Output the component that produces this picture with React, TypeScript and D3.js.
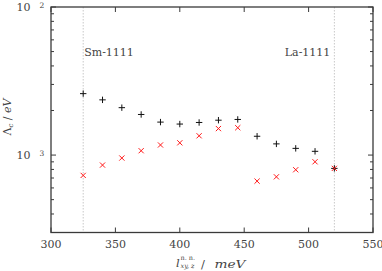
import React from "react";
import * as d3 from "d3";

const xValues = [325, 340, 355, 370, 385, 400, 415, 430, 445, 460, 475, 490, 505, 520];
const blackSeries = [2.6e-3, 2.36e-3, 2.09e-3, 1.88e-3, 1.67e-3, 1.62e-3, 1.66e-3, 1.72e-3, 1.74e-3, 1.34e-3, 1.19e-3, 1.11e-3, 1.06e-3, 8.13e-4];
const redSeries = [7.29e-4, 8.56e-4, 9.55e-4, 1.07e-3, 1.17e-3, 1.21e-3, 1.35e-3, 1.51e-3, 1.53e-3, 6.67e-4, 7.13e-4, 7.96e-4, 9.01e-4, 8.13e-4];
const xTicks = [300, 350, 400, 450, 500, 550];
const yMajorTicks = [1e-2, 1e-3];
const yMajorExponents = ["2", "3"];
const yMinorTicks = [4e-4, 5e-4, 6e-4, 7e-4, 8e-4, 9e-4, 2e-3, 3e-3, 4e-3, 5e-3, 6e-3, 7e-3, 8e-3, 9e-3];
const refLines = [
  { x: 325, label: "Sm-1111" },
  { x: 520, label: "La-1111" },
];

const W = 382;
const H = 271;
const L = 51;
const R = 373;
const T = 7;
const B = 232.5;
const FONT = "'DejaVu Serif', serif";
const AXIS = "#3a3a3a";
const TXT = "#444";

export default function App() {
  const x = d3.scaleLinear().domain([300, 550]).range([L, R]);
  const y = d3.scaleLog().domain([3e-4, 1e-2]).range([B, T]);
  const plus = 3.2;
  const cross = 2.6;
  const txt = { fontFamily: FONT };

  return (
    <svg width={W} height={H} style={{ position: "absolute", left: 0, top: 0, background: "#fff", fontFamily: FONT }}>
      {refLines.map((r, i) => (
        <g key={i}>
          <line x1={x(r.x)} x2={x(r.x)} y1={T} y2={B} stroke="#c8c8c8" strokeWidth={1} strokeDasharray="1.5,1.5" />
          <text
            style={txt}
            x={i === 0 ? x(r.x) + 1 : x(r.x) - 4}
            y={56}
            fontSize={11}
            fill={TXT}
            textAnchor={i === 0 ? "start" : "end"}
          >
            {r.label}
          </text>
        </g>
      ))}

      {xTicks.map((t) => (
        <g key={t}>
          <line x1={x(t)} x2={x(t)} y1={B} y2={B - 5} stroke={AXIS} strokeWidth={1} />
          <line x1={x(t)} x2={x(t)} y1={T} y2={T + 5} stroke={AXIS} strokeWidth={1} />
          <text style={txt} x={x(t)} y={247.5} fontSize={11} textAnchor="middle" fill={TXT}>
            {t}
          </text>
        </g>
      ))}

      {yMajorTicks.map((t, i) => (
        <g key={t}>
          <line x1={L} x2={L + 5} y1={y(t)} y2={y(t)} stroke={AXIS} strokeWidth={1} />
          <line x1={R} x2={R - 5} y1={y(t)} y2={y(t)} stroke={AXIS} strokeWidth={1} />
          <text style={txt} x={30.5} y={y(t) + 4} fontSize={11} textAnchor="end" fill={TXT}>
            10
          </text>
          <text style={txt} x={39.5} y={y(t) + 0.5} fontSize={7.5} fill={TXT}>
            {yMajorExponents[i]}
          </text>
        </g>
      ))}
      {yMinorTicks.map((t) => (
        <g key={t}>
          <line x1={L} x2={L + 3} y1={y(t)} y2={y(t)} stroke={AXIS} strokeWidth={1} />
          <line x1={R} x2={R - 3} y1={y(t)} y2={y(t)} stroke={AXIS} strokeWidth={1} />
        </g>
      ))}

      <rect x={L} y={T} width={R - L} height={B - T} fill="none" stroke={AXIS} strokeWidth={1.3} />

      {xValues.map((v, i) => {
        const cx = x(v);
        const cy = y(blackSeries[i]);
        return (
          <path
            key={"b" + i}
            d={`M${cx - plus},${cy}H${cx + plus}M${cx},${cy - plus}V${cy + plus}`}
            stroke="#111"
            strokeWidth={1}
            fill="none"
          />
        );
      })}
      {xValues.map((v, i) => {
        const cx = x(v);
        const cy = y(redSeries[i]);
        return (
          <path
            key={"r" + i}
            d={`M${cx - cross},${cy - cross}L${cx + cross},${cy + cross}M${cx - cross},${cy + cross}L${cx + cross},${cy - cross}`}
            stroke="#ff1a1a"
            strokeWidth={1}
            fill="none"
          />
        );
      })}

      <text style={txt} x={176} y={267} fontSize={11.5} fill={TXT} fontStyle="italic">
        l
      </text>
      <text style={txt} x={180.5} y={260} fontSize={6.5} fill={TXT}>
        n. n.
      </text>
      <text style={txt} x={180.5} y={268} fontSize={6.5} fill={TXT} fontStyle="italic">
        xy, z
      </text>
      <text style={txt} x={201} y={268} fontSize={11.5} fill={TXT}>
        /
      </text>
      <text style={txt} x={214.5} y={268} fontSize={11.5} fill={TXT} fontStyle="italic" textLength={31} lengthAdjust="spacingAndGlyphs">
        meV
      </text>

      <g transform="translate(11,117) rotate(-90)">
        <text style={txt} x={0} y={0} fontSize={11} fill={TXT} textAnchor="middle">
          <tspan>Λ</tspan>
          <tspan fontSize={7} fontStyle="italic" dy={2}>c</tspan>
          <tspan dy={-2}> / </tspan>
          <tspan fontStyle="italic">eV</tspan>
        </text>
      </g>
    </svg>
  );
}
